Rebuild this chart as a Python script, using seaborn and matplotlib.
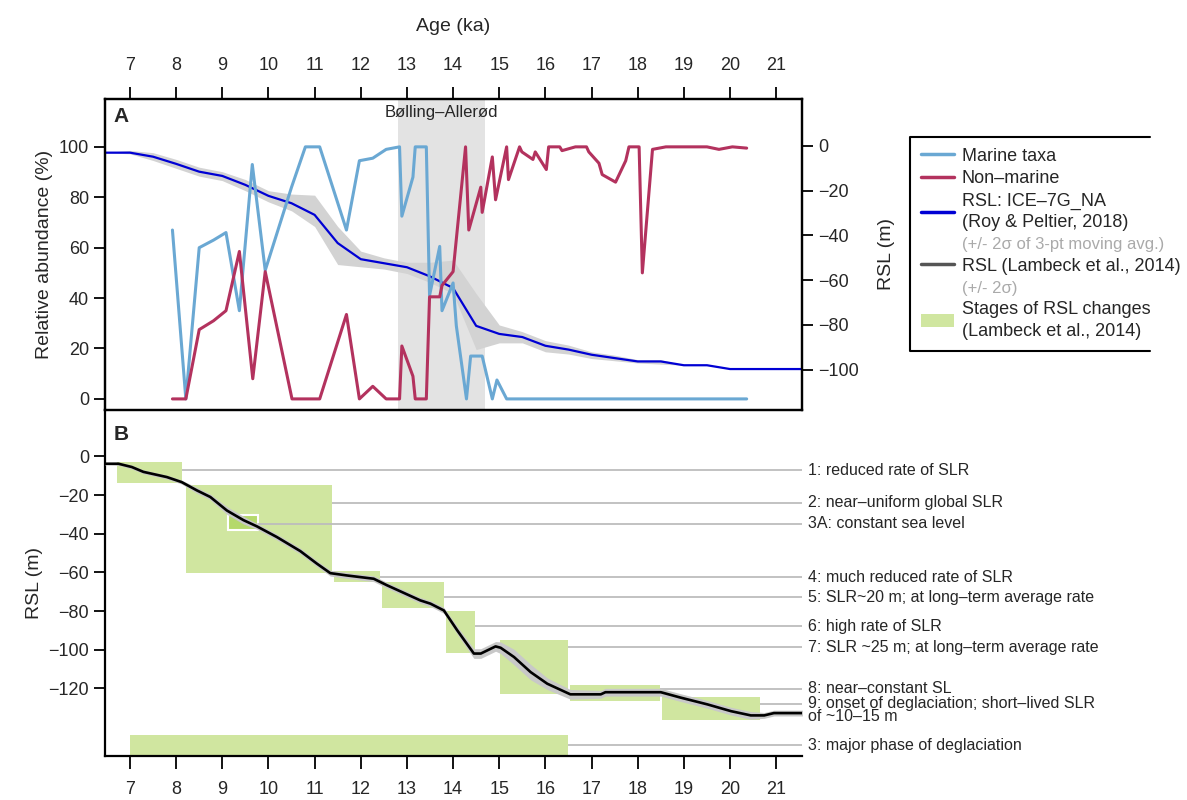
import numpy as np
import pandas as pd
import matplotlib
matplotlib.use("Agg")
import matplotlib.pyplot as plt
from matplotlib.lines import Line2D
from matplotlib.patches import Patch, Rectangle
import seaborn as sns

# --- panel A: diatom abundance (%)
marine_age = [7.92, 8.21, 8.50, 8.81, 9.08, 9.37, 9.65, 9.93, 10.50, 10.80, 11.11, 11.69, 11.97,
              12.26, 12.55, 12.84, 12.89, 13.13, 13.18, 13.42, 13.49, 13.71, 13.76, 14.00, 14.07,
              14.29, 14.38, 14.63, 14.85, 14.95, 15.16, 20.36]
marine_pct = [67, 0, 60, 63, 66, 35, 93, 51, 84, 100, 100, 67, 94.5,
              95.5, 99, 100, 72.5, 88, 100, 100, 41, 60.5, 35, 46, 29,
              0, 17, 17, 0, 7.5, 0, 0]

nonmar_age = [7.92, 8.21, 8.50, 8.81, 9.08, 9.37, 9.66, 9.93, 10.51, 11.11, 11.69, 11.97, 12.26,
              12.55, 12.84, 12.89, 13.13, 13.18, 13.42, 13.49, 13.71, 13.76, 14.00, 14.27, 14.34,
              14.60, 14.63, 14.85, 14.92, 15.16, 15.20, 15.44, 15.49, 15.73, 15.78, 16.02, 16.07,
              16.31, 16.36, 16.65, 16.89, 16.94, 17.16, 17.23, 17.52, 17.74, 17.81, 18.03, 18.10,
              18.32, 18.61, 18.90, 19.50, 19.76, 20.05, 20.36]
nonmar_pct = [0, 0, 27.5, 31, 35, 58.5, 8, 50.5, 0, 0, 33.5, 0, 5,
              0, 0, 21, 9, 0, 0, 40.5, 40.5, 45, 50.5, 100, 67,
              84, 74, 96, 79, 100, 87, 100, 98, 95, 98, 91, 100,
              100, 98.5, 100, 100, 98, 93.5, 89, 86, 94.5, 100, 100, 50,
              99, 100, 100, 100, 99, 100, 99.5]

# --- panel A: ICE-7G_NA RSL (m) with band
ice_age = [6.4, 7.0, 7.5, 8.0, 8.5, 9.0, 9.5, 10.0, 10.5, 11.0, 11.5, 12.0, 12.5, 13.0, 13.5,
           14.0, 14.5, 15.0, 15.5, 16.0, 16.5, 17.0, 17.5, 18.0, 18.5, 19.0, 19.5, 20.0, 21.6]
ice_rsl = [-3, -3, -4.8, -8, -11.5, -13.4, -17.4, -22.3, -25.6, -30.8, -43.4, -50.6, -52.4, -54.2, -58.3,
           -63.5, -80.4, -84, -85.4, -89.3, -91, -93.3, -94.8, -96.3, -96.3, -98, -98, -99.7, -99.7]
ice_hi = [-3, -2, -3, -6, -9.5, -11.5, -15, -20, -21.5, -22, -36, -47, -50, -52, -52,
          -51, -66, -80, -83, -87, -89, -92, -93.5, -95.5, -95.5, -98, -98, -99.7, -99.7]
ice_lo = [-3, -3.5, -6.5, -10, -13.5, -15.5, -20, -25, -29, -36, -53, -54, -55, -57, -61,
          -66, -91, -88, -88, -92, -93, -95, -96, -97, -97.5, -98, -98, -99.7, -99.7]

ba_start, ba_end = 12.8, 14.7

# --- panel B: Lambeck et al. 2014 RSL (m)
lam_age = [6.4, 6.75, 7.04, 7.29, 7.80, 8.12, 8.45, 8.74, 9.10, 9.46, 9.75, 10.18, 10.69, 11.05,
           11.34, 11.70, 12.28, 12.57, 13.29, 13.51, 13.80, 14.09, 14.45, 14.60, 14.92, 15.03,
           15.32, 15.68, 16.04, 16.54, 17.20, 17.30, 18.50, 18.93, 19.51, 20.02, 20.45, 20.74,
           20.95, 21.6]
lam_rsl = [-3.8, -3.8, -5.5, -8, -10.7, -13.3, -17.6, -21, -28, -33, -36.2, -41.7, -49, -55.5,
           -60.4, -61.6, -63.3, -66.7, -74.5, -76.2, -79.7, -90, -102, -102, -98.3, -99,
           -103.8, -111.6, -117.6, -123.1, -123.1, -122, -122, -124.8, -128.3, -131.8, -134, -134,
           -132.8, -132.8]
lam_err = [0.5, 0.8, 1, 1, 1, 1, 1.5, 1.5, 2, 2, 1.5, 1.5, 1.5, 1.5,
           1.5, 1.5, 1.5, 1.5, 1.5, 1.5, 1.5, 2, 2.5, 2.5, 2.5, 3,
           4, 4, 3, 2.5, 2, 2, 2, 2, 2, 2, 2, 1.5,
           1.5, 1.5]

# --- panel B: stages of RSL change
stage_a0 = [6.72, 8.21, 11.41, 12.46, 13.85, 15.01, 16.53, 18.53, 7.0]
stage_a1 = [8.12, 11.37, 12.41, 13.81, 14.48, 16.48, 18.48, 20.64, 16.48]
stage_top = [-3, -15, -59.5, -65.2, -80, -94.8, -118.5, -124.5, -144.3]
stage_bot = [-13.6, -60.2, -65, -78.6, -101.8, -123.1, -126.6, -136.2, -160]
stage_liney = [-7.2, -24, -62.4, -72.8, -87.8, -98.7, -120.2, -128, -149.5]
stage_text = ["1: reduced rate of SLR",
              "2: near\u2013uniform global SLR",
              "4: much reduced rate of SLR",
              "5: SLR~20 m; at long\u2013term average rate",
              "6: high rate of SLR",
              "7: SLR ~25 m; at long\u2013term average rate",
              "8: near\u2013constant SL",
              "9: onset of deglaciation; short\u2013lived SLR\nof ~10\u201315 m",
              "3: major phase of deglaciation"]
s3a = dict(a0=9.13, a1=9.77, top=-30.2, bot=-38.3, liney=-34.8, text="3A: constant sea level")

xticks = list(range(7, 22))

sns.set_theme(style="ticks")
plt.rcParams['font.family'] = ['Liberation Sans', 'DejaVu Sans']

c_marine = "#6aa8d3"
c_nonmar = "#b3325e"
c_ice = "#0000d4"
c_green = "#d0e6a0"

fig = plt.figure(figsize=(11.87, 8.0), dpi=100)
axA = fig.add_axes([0.0885, 0.4875, 0.5872, 0.3888])
axB = fig.add_axes([0.0885, 0.055, 0.5872, 0.4325], sharex=axA)
axA2 = axA.twinx()
axA.set_zorder(axA2.get_zorder() + 1)
axA.patch.set_visible(False)

# Panel A
axA2.axvspan(ba_start, ba_end, color="#e3e3e3", lw=0, zorder=0)
axA2.fill_between(ice_age, ice_lo, ice_hi, color="#d3d3d3", lw=0, zorder=1)
sns.lineplot(x=ice_age, y=ice_rsl, ax=axA2, color=c_ice, lw=1.6, estimator=None, zorder=2)
sns.lineplot(x=marine_age, y=marine_pct, ax=axA, color=c_marine, lw=2.2, estimator=None, sort=False)
sns.lineplot(x=nonmar_age, y=nonmar_pct, ax=axA, color=c_nonmar, lw=2.2, estimator=None, sort=False)

axA.set_xlim(6.46, 21.56)
axA.set_ylim(-4.4, 119)
axA2.set_ylim(-118, 21)
axA.set_yticks([0, 20, 40, 60, 80, 100])
axA2.set_yticks([0, -20, -40, -60, -80, -100])
axA.set_xticks(xticks)
axA.xaxis.tick_top()
axA.xaxis.set_label_position("top")
axA.set_xlabel("Age (ka)", fontsize=14, labelpad=19)
axA.set_ylabel("Relative abundance (%)", fontsize=14)
axA2.set_ylabel("RSL (m)", fontsize=14, labelpad=14)
axA.text((ba_start + ba_end) / 2, 0.955, "B\u00f8lling\u2013Aller\u00f8d", transform=axA.get_xaxis_transform(),
         ha="center", va="center", fontsize=12)
axA.text(0.012, 0.945, "A", transform=axA.transAxes, fontsize=15, fontweight="bold", va="center")

# Panel B
for a0, a1, t, b in zip(stage_a0, stage_a1, stage_top, stage_bot):
    axB.add_patch(Rectangle((a0, b), a1 - a0, t - b, facecolor=c_green, edgecolor="none", zorder=1))
axB.add_patch(Rectangle((s3a["a0"], s3a["bot"]), s3a["a1"] - s3a["a0"], s3a["top"] - s3a["bot"],
                        facecolor="#b5d96c", edgecolor="white", lw=1.5, zorder=1.5))
for a1, ly in zip(stage_a1, stage_liney):
    axB.plot([a1, 21.56], [ly, ly], color="#bdbdbd", lw=1.3, zorder=2, solid_capstyle="butt")
axB.plot([s3a["a1"], 21.56], [s3a["liney"]] * 2, color="#bdbdbd", lw=1.3, zorder=2)

lam = pd.DataFrame({"age": lam_age, "rsl": lam_rsl, "err": lam_err})
axB.fill_between(lam["age"], lam["rsl"] - lam["err"], lam["rsl"] + lam["err"], color="#c8c8c8", lw=0, zorder=3)
sns.lineplot(data=lam, x="age", y="rsl", ax=axB, color="black", lw=1.9, estimator=None, zorder=4)

for ly, txt in zip(stage_liney, stage_text):
    if "\n" in txt:
        axB.annotate(txt, xy=(1.0, ly), xycoords=("axes fraction", "data"), xytext=(4, 5.5),
                     textcoords="offset points", va="top", ha="left", fontsize=11.5, linespacing=0.85,
                     annotation_clip=False)
    else:
        axB.annotate(txt, xy=(1.0, ly), xycoords=("axes fraction", "data"), xytext=(4, 0),
                     textcoords="offset points", va="center", ha="left", fontsize=11.5,
                     annotation_clip=False)
axB.annotate(s3a["text"], xy=(1.0, s3a["liney"]), xycoords=("axes fraction", "data"), xytext=(4, 0),
             textcoords="offset points", va="center", ha="left", fontsize=11.5, annotation_clip=False)

axB.set_ylim(-155, 24)
axB.set_yticks([0, -20, -40, -60, -80, -100, -120])
axB.set_ylabel("RSL (m)", fontsize=14)
axB.set_xlabel("")
axB.text(0.012, 0.93, "B", transform=axB.transAxes, fontsize=15, fontweight="bold", va="center")
axB.tick_params(axis="x", labelbottom=True)

for ax in (axA, axA2, axB):
    ax.tick_params(direction="out", length=8, width=1.3, labelsize=13, color="black")
    for s in ax.spines.values():
        s.set_linewidth(1.6)
        s.set_color("black")
axA.tick_params(axis="x", length=9, pad=9)
axB.tick_params(axis="x", length=9, pad=9)
axB.spines["top"].set_visible(False)
axB.spines["right"].set_visible(False)
axA.set_xticks(xticks)

handles = [Line2D([], [], color=c_marine, lw=2.5),
           Line2D([], [], color=c_nonmar, lw=2.5),
           Line2D([], [], color=c_ice, lw=2.5),
           Line2D([], [], color="none"),
           Line2D([], [], color="#555555", lw=2.5),
           Line2D([], [], color="none"),
           Patch(facecolor=c_green, edgecolor="none")]
labels = ["Marine taxa", "Non\u2013marine", "RSL: ICE\u20137G_NA\n(Roy & Peltier, 2018)",
          "(+/- 2\u03c3 of 3-pt moving avg.)", "RSL (Lambeck et al., 2014)", "(+/- 2\u03c3)",
          "Stages of RSL changes\n(Lambeck et al., 2014)"]
leg = fig.legend(handles, labels, loc="upper left", bbox_to_anchor=(0.767, 0.829), fontsize=13,
                 frameon=False, handlelength=1.8, handletextpad=0.45, labelspacing=0.3,
                 borderaxespad=0, borderpad=0.6)
for t in leg.get_texts():
    t.set_linespacing(1.35)
for i in (3, 5):
    leg.get_texts()[i].set_color("#aaaaaa")
    leg.get_texts()[i].set_fontsize(12)

# legend frame open on the right side
fig.canvas.draw()
bb = leg.get_window_extent().transformed(fig.transFigure.inverted())
frame_right = 1150 / 1187
fig.add_artist(Line2D([frame_right, bb.x0, bb.x0, frame_right], [bb.y1, bb.y1, bb.y0, bb.y0],
                      transform=fig.transFigure, color="black", lw=1.5))

fig.savefig("out.png", dpi=100)
